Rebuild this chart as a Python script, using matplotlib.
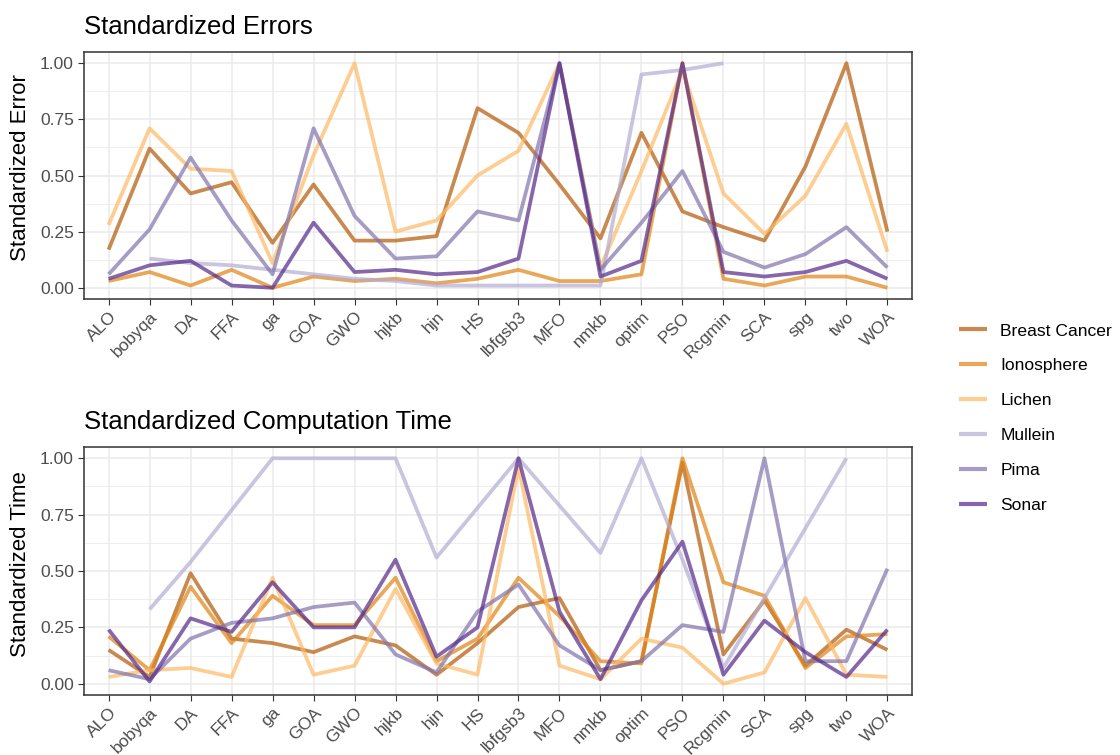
import numpy as np
import matplotlib
matplotlib.use('Agg')
import matplotlib.pyplot as plt
from matplotlib.ticker import MultipleLocator

plt.rcParams['font.family'] = ['Liberation Sans', 'DejaVu Sans']

# algorithms on the x axis
algoritmos = ['ALO', 'bobyqa', 'DA', 'FFA', 'ga', 'GOA', 'GWO', 'hjkb', 'hjn', 'HS',
              'lbfgsb3', 'MFO', 'nmkb', 'optim', 'PSO', 'Rcgmin', 'SCA', 'spg', 'two', 'WOA']
datasets = ['Breast Cancer', 'Ionosphere', 'Lichen', 'Mullein', 'Pima', 'Sonar']
cores = ['#B35806', '#E08214', '#FDB863', '#B2ABD2', '#8073AC', '#542788']
nan = np.nan

# standardized errors
erro_breast = [0.17, 0.62, 0.42, 0.47, 0.20, 0.46, 0.21, 0.21, 0.23, 0.80,
               0.69, 0.46, 0.22, 0.69, 0.34, 0.27, 0.21, 0.54, 1.00, 0.25]
erro_iono = [0.03, 0.07, 0.01, 0.08, 0.00, 0.05, 0.03, 0.04, 0.02, 0.04,
             0.08, 0.03, 0.03, 0.06, 1.00, 0.04, 0.01, 0.05, 0.05, 0.00]
erro_lichen = [0.28, 0.71, 0.53, 0.52, 0.11, 0.59, 1.00, 0.25, 0.30, 0.50,
               0.61, 1.00, 0.09, 0.52, 0.97, 0.42, 0.24, 0.41, 0.73, 0.16]
erro_mullein = [nan, 0.13, 0.11, 0.10, 0.08, 0.06, 0.04, 0.03, 0.01, 0.01,
                0.01, 0.01, 0.01, 0.95, 0.97, 1.00, nan, nan, nan, nan]
erro_pima = [0.06, 0.26, 0.58, 0.30, 0.06, 0.71, 0.32, 0.13, 0.14, 0.34,
             0.30, 1.00, 0.08, 0.29, 0.52, 0.16, 0.09, 0.15, 0.27, 0.09]
erro_sonar = [0.04, 0.10, 0.12, 0.01, 0.00, 0.29, 0.07, 0.08, 0.06, 0.07,
              0.13, 1.00, 0.05, 0.12, 1.00, 0.07, 0.05, 0.07, 0.12, 0.04]

# standardized computation time
tempo_breast = [0.15, 0.03, 0.49, 0.20, 0.18, 0.14, 0.21, 0.17, 0.04, 0.18,
                0.34, 0.38, 0.06, 0.10, 0.98, 0.13, 0.37, 0.08, 0.24, 0.15]
tempo_iono = [0.21, 0.06, 0.43, 0.18, 0.39, 0.26, 0.26, 0.47, 0.10, 0.20,
              0.47, 0.30, 0.10, 0.09, 1.00, 0.45, 0.39, 0.07, 0.21, 0.22]
tempo_lichen = [0.03, 0.06, 0.07, 0.03, 0.47, 0.04, 0.08, 0.42, 0.09, 0.04,
                0.96, 0.08, 0.02, 0.20, 0.16, 0.00, 0.05, 0.38, 0.04, 0.03]
tempo_mullein = [nan, 0.33, 0.54, 0.77, 1.00, 1.00, 1.00, 1.00, 0.56, 0.78,
                 1.00, 0.79, 0.58, 1.00, 0.55, 0.07, 0.38, 0.69, 1.00, nan]
tempo_pima = [0.06, 0.02, 0.20, 0.27, 0.29, 0.34, 0.36, 0.13, 0.05, 0.32,
              0.44, 0.17, 0.06, 0.10, 0.26, 0.23, 1.00, 0.10, 0.10, 0.51]
tempo_sonar = [0.24, 0.01, 0.29, 0.23, 0.45, 0.25, 0.25, 0.55, 0.12, 0.25,
               1.00, 0.32, 0.02, 0.37, 0.63, 0.04, 0.28, 0.14, 0.03, 0.24]

erros = [erro_breast, erro_iono, erro_lichen, erro_mullein, erro_pima, erro_sonar]
tempos = [tempo_breast, tempo_iono, tempo_lichen, tempo_mullein, tempo_pima, tempo_sonar]

fig = plt.figure(figsize=(11.2, 7.55), dpi=100)
ax1 = fig.add_axes([84 / 1120, 1 - 299 / 755, 828 / 1120, 247 / 755])
ax2 = fig.add_axes([84 / 1120, 1 - 695 / 755, 828 / 1120, 248 / 755])

x = np.arange(len(algoritmos))


def desenha(ax, series):
    for nome, cor, valores in zip(datasets, cores, series):
        ax.plot(x, valores, color=cor, alpha=0.7, linewidth=2.7, label=nome,
                solid_capstyle='butt')
    ax.set_xlim(-0.6, len(algoritmos) - 0.4)
    ax.set_ylim(-0.05, 1.05)
    ax.set_xticks(x)
    ax.set_xticklabels(algoritmos, rotation=45, ha='right', rotation_mode='anchor')
    ax.set_yticks([0, 0.25, 0.5, 0.75, 1.0])
    ax.set_yticklabels(['0.00', '0.25', '0.50', '0.75', '1.00'])
    ax.yaxis.set_minor_locator(MultipleLocator(0.125))
    ax.grid(True, which='major', color='#EBEBEB', linewidth=1.1, zorder=0)
    ax.grid(True, which='minor', axis='y', color='#EBEBEB', linewidth=0.55, zorder=0)
    ax.set_axisbelow(True)
    ax.tick_params(axis='both', which='major', labelsize=12.5, colors='#333333',
                   labelcolor='#4D4D4D', length=4.3, width=0.8, pad=3)
    ax.tick_params(axis='y', which='minor', length=0)
    for s in ax.spines.values():
        s.set_color('#333333')
        s.set_linewidth(1.1)


desenha(ax1, erros)
desenha(ax2, tempos)

fig.text(84 / 1120, 1 - 27 / 755, 'Standardized Errors', fontsize=18.5, va='center', ha='left')
fig.text(84 / 1120, 1 - 422 / 755, 'Standardized Computation Time', fontsize=18.5, va='center', ha='left')
fig.text(21 / 1120, 1 - 168 / 755, 'Standardized Error', fontsize=16, rotation=90, va='center', ha='center')
fig.text(21 / 1120, 1 - 564 / 755, 'Standardized Time', fontsize=16, rotation=90, va='center', ha='center')

handles, labels = ax1.get_legend_handles_labels()
leg = fig.legend(handles, labels, loc='center left', bbox_to_anchor=(952 / 1120, 1 - 418 / 755),
                 frameon=False, fontsize=12.6, handlelength=1.6, handletextpad=0.75,
                 labelspacing=1.12, borderaxespad=0, borderpad=0.4)
for h in leg.get_lines():
    h.set_linewidth(3.0)

fig.savefig('out.png', dpi=100)
